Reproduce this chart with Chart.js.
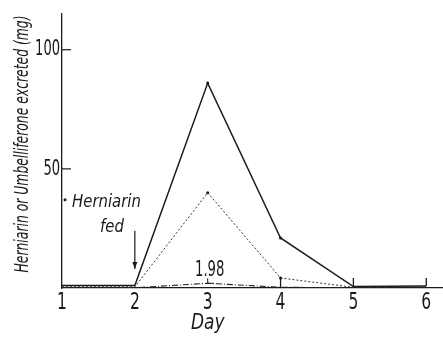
<!DOCTYPE html>
<html>
<head>
<meta charset="utf-8">
<script src="https://cdn.jsdelivr.net/npm/chart.js@4/dist/chart.umd.min.js"></script>
<style>
    html, body { margin: 0; padding: 0; background: #fff; }
    #wrap { width: 443px; height: 338px; }
</style>
</head>
<body>
<div id="wrap"><canvas id="chart"></canvas></div>
<script>
const days = [1, 2, 3, 4, 5, 6];
const dayTicks = [1, 2, 3, 4, 5, 6];
const yTicks = [50, 100];
const solidSeries = [1.0, 1.0, 86, 21, 0.6, 0.8];
const dottedSeries = [0.5, 0.5, 40, 4.2, 0.3, 0.4];
const dashDotSeries = [0.2, 0.1, 1.98, 0.3, 0.1, 0.1];
const peakNote = '1.98';
const fedNote = ['Herniarin', 'fed'];
const xTitle = 'Day';
const yTitle = 'Herniarin or Umbelliferone excreted (mg)';

const FONT = "'Liberation Sans Narrow', 'DejaVu Sans Condensed', sans-serif";
const INK = '#1a1a1a';

// squeezed text, to get the tall narrow lettering of the original
function narrowText(ctx, text, x, y, squeeze) {
    ctx.save();
    ctx.translate(x, y);
    ctx.scale(squeeze, 1);
    ctx.fillText(text, 0, 0);
    ctx.restore();
}

const annotations = {
    id: 'annotations',
    afterDatasetsDraw(chart) {
        const { ctx, scales: { x, y } } = chart;
        ctx.save();
        ctx.strokeStyle = INK;
        ctx.fillStyle = INK;
        ctx.lineWidth = 1.2;

        // y tick labels and inward tick marks
        ctx.font = `22px ${FONT}`;
        ctx.textBaseline = 'middle';
        ctx.textAlign = 'right';
        yTicks.forEach((v) => {
            const py = y.getPixelForValue(v);
            narrowText(ctx, String(v), x.left - 2, py, 0.66);
            ctx.beginPath();
            ctx.moveTo(x.left, py);
            ctx.lineTo(x.left + 9, py);
            ctx.stroke();
        });

        // y axis title, rotated and squeezed to the axis length
        ctx.font = `italic 19px ${FONT}`;
        ctx.textAlign = 'center';
        const tw = ctx.measureText(yTitle).width;
        ctx.save();
        ctx.translate(23, (y.top + y.bottom) / 2 - 7);
        ctx.rotate(-Math.PI / 2);
        narrowText(ctx, yTitle, 0, 0, 257 / tw);
        ctx.restore();

        // arrow marking the feeding day
        const ax = x.getPixelForValue(2);
        const aTop = y.getPixelForValue(24);
        const aTip = y.getPixelForValue(8);
        ctx.beginPath();
        ctx.moveTo(ax, aTop);
        ctx.lineTo(ax, aTip);
        ctx.stroke();
        ctx.beginPath();
        ctx.moveTo(ax - 2.5, aTip - 7);
        ctx.lineTo(ax, aTip);
        ctx.lineTo(ax + 2.5, aTip - 7);
        ctx.fill();

        // "Herniarin fed" note
        ctx.font = `italic 18px ${FONT}`;
        ctx.textAlign = 'left';
        const nx = x.getPixelForValue(1) + 10;
        narrowText(ctx, fedNote[0], nx, y.getPixelForValue(36), 0.92);
        narrowText(ctx, fedNote[1], nx + 28, y.getPixelForValue(25.5), 0.92);
        ctx.beginPath();
        ctx.arc(x.getPixelForValue(1) + 3, y.getPixelForValue(37), 1.5, 0, Math.PI * 2);
        ctx.fill();

        // value note at the dash-dot peak
        const px = x.getPixelForValue(3);
        const pv = y.getPixelForValue(dashDotSeries[2]);
        ctx.font = `21px ${FONT}`;
        ctx.textAlign = 'center';
        narrowText(ctx, peakNote, px + 2, pv - 13, 0.7);
        ctx.lineWidth = 1;
        ctx.beginPath();
        ctx.moveTo(px, pv - 5);
        ctx.lineTo(px, pv);
        ctx.lineTo(px + 6, pv);
        ctx.stroke();

        // drop line at day 4 and small marks at days 5, 6
        const dx = x.getPixelForValue(4);
        ctx.lineWidth = 1.3;
        ctx.beginPath();
        ctx.moveTo(dx, y.getPixelForValue(dottedSeries[3]));
        ctx.lineTo(dx, y.getPixelForValue(0));
        ctx.stroke();
        [5, 6].forEach((d) => {
            const mx = x.getPixelForValue(d);
            ctx.beginPath();
            ctx.moveTo(mx, y.getPixelForValue(0) - 10);
            ctx.lineTo(mx, y.getPixelForValue(0) - 2);
            ctx.stroke();
        });

        // x tick labels, narrow like the original
        ctx.font = `23px ${FONT}`;
        ctx.textBaseline = 'top';
        ctx.textAlign = 'center';
        dayTicks.forEach((d) => {
            narrowText(ctx, String(d), x.getPixelForValue(d), x.top + 4, 0.75);
        });

        // x axis title, under day 3 as in the original
        ctx.font = `italic 21px ${FONT}`;
        ctx.textBaseline = 'middle';
        narrowText(ctx, xTitle, x.getPixelForValue(3), x.bottom - 14, 0.9);
        ctx.restore();
    }
};

new Chart(document.getElementById('chart').getContext('2d'), {
    type: 'line',
    data: {
        labels: days,
        datasets: [
            {
                data: dashDotSeries.map((v, i) => ({ x: days[i], y: v })),
                borderColor: '#222',
                borderWidth: 1.1,
                borderDash: [6, 2, 1, 2],
                pointRadius: 0,
                tension: 0
            },
            {
                data: dottedSeries.map((v, i) => ({ x: days[i], y: v })),
                borderColor: '#333',
                borderWidth: 1,
                borderDash: [2, 2],
                pointRadius: [0, 0, 1.5, 1.5, 0, 0],
                pointBackgroundColor: INK,
                pointBorderWidth: 0,
                tension: 0
            },
            {
                data: solidSeries.map((v, i) => ({ x: days[i], y: v })),
                borderColor: INK,
                borderWidth: 1.5,
                pointRadius: [0, 0, 1.5, 1.5, 0, 0],
                pointBackgroundColor: INK,
                pointBorderWidth: 0,
                tension: 0
            }
        ]
    },
    options: {
        responsive: true,
        maintainAspectRatio: false,
        animation: false,
        layout: { padding: { top: 14, right: 0, left: 0, bottom: 0 } },
        plugins: { legend: { display: false }, tooltip: { enabled: false } },
        scales: {
            x: {
                type: 'linear',
                min: 1,
                max: 6.23,
                afterBuildTicks: (s) => { s.ticks = dayTicks.map((v) => ({ value: v })); },
                afterFit: (s) => { s.height = 50; },
                ticks: { display: false },
                grid: { display: false, drawTicks: false },
                border: { display: true, color: INK, width: 1.3 }
            },
            y: {
                min: 0,
                max: 115,
                afterBuildTicks: (s) => { s.ticks = yTicks.map((v) => ({ value: v })); },
                afterFit: (s) => { s.width = 62; },
                ticks: { display: false },
                grid: { display: false, drawTicks: false },
                border: { display: true, color: INK, width: 1.3 }
            }
        }
    },
    plugins: [annotations]
});
</script>
</body>
</html>
